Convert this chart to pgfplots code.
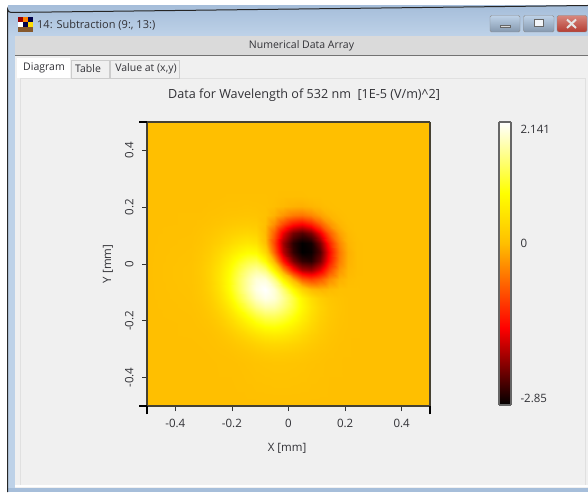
\documentclass[border=0pt]{standalone}
\usepackage{fontspec}
\setmainfont{Open Sans}
\usepackage{pgfplots}
\pgfplotsset{compat=1.18}
\definecolor{panel}{RGB}{240,240,240}
\definecolor{band}{RGB}{218,218,218}
\definecolor{tblue}{RGB}{166,190,218}
\definecolor{tblue2}{RGB}{190,210,232}
\definecolor{txt}{RGB}{50,50,55}
\definecolor{axl}{RGB}{70,65,50}
\definecolor{cltop}{RGB}{216,135,125}
\definecolor{clbot}{RGB}{180,60,50}
\pgfplotsset{hotcm/.style={colormap={hotmap}{rgb255(0)=(0,0,0); rgb255(272)=(255,0,0); rgb255(571)=(255,191,0); rgb255(750)=(255,255,0); rgb255(1000)=(255,255,255)}}}
\begin{document}
\begin{tikzpicture}
\path[use as bounding box] (0,0) rectangle (588pt,492pt);
\begin{scope}[x=1pt,y=-1pt,shift={(0pt,492pt)}]
\fill[white] (0,0) rectangle (588,492);
\shade[top color=tblue,bottom color=tblue2] (8,6) rectangle (588,36);
\fill[tblue2] (8,36) rectangle (15,492);
\fill[tblue] (588,488) rectangle (8,492);
\draw[black!85,line width=1pt] (7.5,492) -- (7.5,9) arc (180:90:3.5) -- (588,5.5);
\fill[band] (15,36) rectangle (588,55);
\fill[black!55] (15,55) rectangle (588,56.5);
\fill[panel] (15,56.5) rectangle (588,488);
\fill[white] (15,485) rectangle (588,486.5);
\draw[black!12] (20.5,78) -- (585.5,78) -- (585.5,485);
\draw[black!12] (20.5,78) -- (20.5,485);
% tabs
\fill[white] (17,58) rectangle (70,78);
\draw[black!20,fill=panel] (71,60) rectangle (109.5,78);
\draw[black!20,fill=panel] (110,60) rectangle (179.5,78);
\node[font=\fontsize{10.5pt}{12pt}\selectfont,text=txt] at (44,67.5) {Diagram};
\node[font=\fontsize{10.5pt}{12pt}\selectfont,text=txt] at (88,69) {Table};
\node[font=\fontsize{10.5pt}{12pt}\selectfont,text=txt] at (146,69) {Value at (x,y)};
\node[font=\fontsize{10.5pt}{12pt}\selectfont,text=txt] at (301.5,45.5) {Numerical Data Array};
\node[font=\fontsize{11pt}{12pt}\selectfont,text=txt,anchor=west,inner sep=0pt] at (37,25) {14: Subtraction (9:, 13:)};
% icon
\fill[red!60!black] (18,17) rectangle (23,22);
\fill[orange] (23,17) rectangle (28,22);
\fill[black!70!blue] (28,17) rectangle (33,22);
\fill[white] (18,22) rectangle (23,27);
\fill[black!70!blue] (23,22) rectangle (28,27);
\fill[yellow!80!orange] (28,22) rectangle (33,27);
\fill[brown!70!black] (18,27) rectangle (33,32);
% buttons
\shade[top color=tblue2,bottom color=tblue!80!black,draw=black!45,rounded corners=1.5pt] (490,15.5) rectangle (520,32);
\shade[top color=tblue2,bottom color=tblue!80!black,draw=black!45,rounded corners=1.5pt] (523.5,15.5) rectangle (554,32);
\shade[top color=cltop,bottom color=clbot,draw=black!45,rounded corners=1.5pt] (557,15.5) rectangle (587,32);
\fill[white!85!black,draw=black!60,line width=.4pt] (500,25) rectangle (510,27.5);
\draw[black!60,fill=white!85!tblue,line width=1pt] (534,20) rectangle (543,27);
\draw[white!90!black,line width=2pt] (567,19.5) -- (576,28) (576,19.5) -- (567,28);
\node[font=\fontsize{12.6pt}{14pt}\selectfont,text=txt] at (304,95) {Data for Wavelength of 532 nm\ \ [1E-5 (V/m)\textasciicircum 2]};
\end{scope}
\begin{axis}[
  at={(147pt,86pt)},anchor=south west,scale only axis,width=283pt,height=284pt,
  view={0}{90},xmin=-0.5,xmax=0.5,ymin=-0.5,ymax=0.5,
  axis on top,hotcm,
  point meta min=-2.85,point meta max=2.141,
  axis line style={axl,line width=1.2pt},
  xtick pos=bottom,ytick pos=left,
  tick align=outside,
  major tick length=5pt,
  tick style={black!80,line width=.7pt},
  xtick={-0.4,-0.2,0,0.2,0.4},xticklabels={-0.4,-0.2,0,0.2,0.4},
  ytick={-0.4,-0.2,0,0.2,0.4},yticklabels={-0.4,-0.2,0,0.2,0.4},
  extra x ticks={-0.5,0.5},extra x tick labels={,},
  extra y ticks={-0.5,0.5},extra y tick labels={,},
  extra tick style={tick style={black,line width=1.6pt},major tick length=8pt},
  tick label style={font=\fontsize{11.5pt}{13pt}\selectfont,text=txt},
  xticklabel style={yshift=-5pt},
  yticklabel style={xshift=-5pt,rotate=90,anchor=south},
  label style={font=\fontsize{11.5pt}{13pt}\selectfont,text=txt},
  xlabel={X [mm]},ylabel={Y [mm]},
  xlabel style={at={(axis description cs:0.495,0)},anchor=center,yshift=-42pt},
  ylabel style={at={(axis description cs:0,0.5)},anchor=center,yshift=39pt},
]
\addplot3[surf,shader=interp,mesh/ordering=x varies,mesh/cols=22] coordinates {
(-.5,-.5,0)(-.343,-.5,0)(-.3105,-.5,0)(-.278,-.5,0)(-.2455,-.5,0)(-.213,-.5,0)(-.1805,-.5,0)(-.148,-.5,0)(-.1155,-.5,0)(-.083,-.5,0)(-.0505,-.5,0)(-.018,-.5,0)(.0145,-.5,0)(.047,-.5,0)(.0795,-.5,0)(.112,-.5,0)(.1445,-.5,0)(.177,-.5,0)(.2095,-.5,0)(.242,-.5,0)(.2745,-.5,0)(.5,-.5,0)
(-.5,-.347,0)(-.343,-.347,0)(-.3105,-.347,0)(-.278,-.347,0)(-.2455,-.347,.01)(-.213,-.347,.01)(-.1805,-.347,.02)(-.148,-.347,.04)(-.1155,-.347,.06)(-.083,-.347,.07)(-.0505,-.347,.08)(-.018,-.347,.08)(.0145,-.347,.07)(.047,-.347,.06)(.0795,-.347,.04)(.112,-.347,.03)(.1445,-.347,.01)(.177,-.347,.01)(.2095,-.347,0)(.242,-.347,0)(.2745,-.347,0)(.5,-.347,0)
(-.5,-.3145,0)(-.343,-.3145,0)(-.3105,-.3145,0)(-.278,-.3145,.01)(-.2455,-.3145,.02)(-.213,-.3145,.03)(-.1805,-.3145,.06)(-.148,-.3145,.09)(-.1155,-.3145,.13)(-.083,-.3145,.16)(-.0505,-.3145,.18)(-.018,-.3145,.17)(.0145,-.3145,.15)(.047,-.3145,.12)(.0795,-.3145,.08)(.112,-.3145,.05)(.1445,-.3145,.03)(.177,-.3145,.01)(.2095,-.3145,.01)(.242,-.3145,0)(.2745,-.3145,0)(.5,-.3145,0)
(-.5,-.282,0)(-.343,-.282,0)(-.3105,-.282,.01)(-.278,-.282,.02)(-.2455,-.282,.04)(-.213,-.282,.07)(-.1805,-.282,.12)(-.148,-.282,.19)(-.1155,-.282,.26)(-.083,-.282,.32)(-.0505,-.282,.34)(-.018,-.282,.33)(.0145,-.282,.28)(.047,-.282,.22)(.0795,-.282,.15)(.112,-.282,.09)(.1445,-.282,.05)(.177,-.282,.02)(.2095,-.282,.01)(.242,-.282,0)(.2745,-.282,0)(.5,-.282,0)
(-.5,-.2495,0)(-.343,-.2495,.01)(-.3105,-.2495,.01)(-.278,-.2495,.03)(-.2455,-.2495,.07)(-.213,-.2495,.14)(-.1805,-.2495,.24)(-.148,-.2495,.36)(-.1155,-.2495,.48)(-.083,-.2495,.57)(-.0505,-.2495,.6)(-.018,-.2495,.57)(.0145,-.2495,.47)(.047,-.2495,.35)(.0795,-.2495,.23)(.112,-.2495,.14)(.1445,-.2495,.07)(.177,-.2495,.03)(.2095,-.2495,.01)(.242,-.2495,.01)(.2745,-.2495,0)(.5,-.2495,0)
(-.5,-.217,0)(-.343,-.217,.01)(-.3105,-.217,.03)(-.278,-.217,.06)(-.2455,-.217,.13)(-.213,-.217,.25)(-.1805,-.217,.41)(-.148,-.217,.61)(-.1155,-.217,.79)(-.083,-.217,.92)(-.0505,-.217,.95)(-.018,-.217,.87)(.0145,-.217,.71)(.047,-.217,.52)(.0795,-.217,.34)(.112,-.217,.19)(.1445,-.217,.1)(.177,-.217,.04)(.2095,-.217,.02)(.242,-.217,.01)(.2745,-.217,0)(.5,-.217,0)
(-.5,-.1845,0)(-.343,-.1845,.02)(-.3105,-.1845,.05)(-.278,-.1845,.11)(-.2455,-.1845,.22)(-.213,-.1845,.4)(-.1805,-.1845,.64)(-.148,-.1845,.92)(-.1155,-.1845,1.17)(-.083,-.1845,1.33)(-.0505,-.1845,1.34)(-.018,-.1845,1.21)(.0145,-.1845,.97)(.047,-.1845,.69)(.0795,-.1845,.43)(.112,-.1845,.24)(.1445,-.1845,.12)(.177,-.1845,.05)(.2095,-.1845,.02)(.242,-.1845,.01)(.2745,-.1845,0)(.5,-.1845,0)
(-.5,-.152,0)(-.343,-.152,.03)(-.3105,-.152,.07)(-.278,-.152,.16)(-.2455,-.152,.32)(-.213,-.152,.56)(-.1805,-.152,.89)(-.148,-.152,1.25)(-.1155,-.152,1.56)(-.083,-.152,1.73)(-.0505,-.152,1.71)(-.018,-.152,1.5)(.0145,-.152,1.17)(.047,-.152,.8)(.0795,-.152,.49)(.112,-.152,.27)(.1445,-.152,.13)(.177,-.152,.06)(.2095,-.152,.02)(.242,-.152,.01)(.2745,-.152,0)(.5,-.152,0)
(-.5,-.1195,0)(-.343,-.1195,.04)(-.3105,-.1195,.1)(-.278,-.1195,.21)(-.2455,-.1195,.42)(-.213,-.1195,.72)(-.1805,-.1195,1.12)(-.148,-.1195,1.53)(-.1155,-.1195,1.87)(-.083,-.1195,2.03)(-.0505,-.1195,1.95)(-.018,-.1195,1.64)(.0145,-.1195,1.2)(.047,-.1195,.75)(.0795,-.1195,.42)(.112,-.1195,.21)(.1445,-.1195,.1)(.177,-.1195,.05)(.2095,-.1195,.02)(.242,-.1195,.01)(.2745,-.1195,0)(.5,-.1195,0)
(-.5,-.087,0)(-.343,-.087,.05)(-.3105,-.087,.12)(-.278,-.087,.26)(-.2455,-.087,.49)(-.213,-.087,.84)(-.1805,-.087,1.26)(-.148,-.087,1.69)(-.1155,-.087,2.02)(-.083,-.087,2.141)(-.0505,-.087,1.94)(-.018,-.087,1.45)(.0145,-.087,.81)(.047,-.087,.26)(.0795,-.087,-.05)(.112,-.087,-.1)(.1445,-.087,-.04)(.177,-.087,.01)(.2095,-.087,.01)(.242,-.087,.01)(.2745,-.087,0)(.5,-.087,0)
(-.5,-.0545,0)(-.343,-.0545,.06)(-.3105,-.0545,.13)(-.278,-.0545,.28)(-.2455,-.0545,.53)(-.213,-.0545,.87)(-.1805,-.0545,1.28)(-.148,-.0545,1.68)(-.1155,-.0545,1.95)(-.083,-.0545,1.95)(-.0505,-.0545,1.53)(-.018,-.0545,.73)(.0145,-.0545,-.15)(.047,-.0545,-.79)(.0795,-.0545,-.99)(.112,-.0545,-.8)(.1445,-.0545,-.41)(.177,-.0545,-.12)(.2095,-.0545,-.02)(.242,-.0545,0)(.2745,-.0545,0)(.5,-.0545,0)
(-.5,-.022,0)(-.343,-.022,.06)(-.3105,-.022,.14)(-.278,-.022,.28)(-.2455,-.022,.5)(-.213,-.022,.81)(-.1805,-.022,1.17)(-.148,-.022,1.5)(-.1155,-.022,1.67)(-.083,-.022,1.49)(-.0505,-.022,.76)(-.018,-.022,-.34)(.0145,-.022,-1.34)(.047,-.022,-1.92)(.0795,-.022,-2.02)(.112,-.022,-1.64)(.1445,-.022,-.94)(.177,-.022,-.33)(.2095,-.022,-.06)(.242,-.022,-.01)(.2745,-.022,0)(.5,-.022,0)
(-.5,.0105,0)(-.343,.0105,.05)(-.3105,.0105,.12)(-.278,.0105,.24)(-.2455,.0105,.43)(-.213,.0105,.69)(-.1805,.0105,.97)(-.148,.0105,1.2)(-.1155,.0105,1.26)(-.083,.0105,.88)(-.0505,.0105,-.1)(-.018,.0105,-1.31)(.0145,.0105,-2.18)(.047,.0105,-2.58)(.0795,.0105,-2.64)(.112,.0105,-2.23)(.1445,.0105,-1.36)(.177,.0105,-.52)(.2095,.0105,-.1)(.242,.0105,-.01)(.2745,.0105,0)(.5,.0105,0)
(-.5,.043,0)(-.343,.043,.04)(-.3105,.043,.1)(-.278,.043,.19)(-.2455,.043,.34)(-.213,.043,.52)(-.1805,.043,.71)(-.148,.043,.86)(-.1155,.043,.83)(-.083,.043,.34)(-.0505,.043,-.72)(-.018,.043,-1.87)(.0145,.043,-2.57)(.047,.043,-2.85)(.0795,.043,-2.8)(.112,.043,-2.42)(.1445,.043,-1.48)(.177,.043,-.57)(.2095,.043,-.12)(.242,.043,-.01)(.2745,.043,0)(.5,.043,0)
(-.5,.0755,0)(-.343,.0755,.03)(-.3105,.0755,.07)(-.278,.0755,.14)(-.2455,.0755,.23)(-.213,.0755,.35)(-.1805,.0755,.47)(-.148,.0755,.56)(-.1155,.0755,.49)(-.083,.0755,.03)(-.0505,.0755,-.93)(-.018,.0755,-1.98)(.0145,.0755,-2.62)(.047,.0755,-2.84)(.0795,.0755,-2.75)(.112,.0755,-2.2)(.1445,.0755,-1.26)(.177,.0755,-.45)(.2095,.0755,-.08)(.242,.0755,-.01)(.2745,.0755,0)(.5,.0755,0)
(-.5,.108,0)(-.343,.108,.02)(-.3105,.108,.05)(-.278,.108,.09)(-.2455,.108,.15)(-.213,.108,.22)(-.1805,.108,.28)(-.148,.108,.32)(-.1155,.108,.27)(-.083,.108,-.04)(-.0505,.108,-.75)(-.018,.108,-1.61)(.0145,.108,-2.22)(.047,.108,-2.41)(.0795,.108,-2.19)(.112,.108,-1.57)(.1445,.108,-.79)(.177,.108,-.24)(.2095,.108,-.04)(.242,.108,0)(.2745,.108,0)(.5,.108,0)
(-.5,.1405,0)(-.343,.1405,.01)(-.3105,.1405,.03)(-.278,.1405,.05)(-.2455,.1405,.08)(-.213,.1405,.12)(-.1805,.1405,.15)(-.148,.1405,.17)(-.1155,.1405,.15)(-.083,.1405,0)(-.0505,.1405,-.38)(-.018,.1405,-.92)(.0145,.1405,-1.35)(.047,.1405,-1.48)(.0795,.1405,-1.25)(.112,.1405,-.79)(.1445,.1405,-.34)(.177,.1405,-.08)(.2095,.1405,-.01)(.242,.1405,0)(.2745,.1405,0)(.5,.1405,0)
(-.5,.173,0)(-.343,.173,.01)(-.3105,.173,.01)(-.278,.173,.03)(-.2455,.173,.04)(-.213,.173,.06)(-.1805,.173,.07)(-.148,.173,.08)(-.1155,.173,.07)(-.083,.173,.03)(-.0505,.173,-.1)(-.018,.173,-.32)(.0145,.173,-.52)(.047,.173,-.57)(.0795,.173,-.44)(.112,.173,-.24)(.1445,.173,-.08)(.177,.173,-.02)(.2095,.173,0)(.242,.173,0)(.2745,.173,0)(.5,.173,0)
(-.5,.2055,0)(-.343,.2055,0)(-.3105,.2055,0)(-.278,.2055,.01)(-.2455,.2055,.02)(-.213,.2055,.03)(-.1805,.2055,.03)(-.148,.2055,.04)(-.1155,.2055,.03)(-.083,.2055,.02)(-.0505,.2055,-.01)(-.018,.2055,-.05)(.0145,.2055,-.1)(.047,.2055,-.12)(.0795,.2055,-.08)(.112,.2055,-.04)(.1445,.2055,-.01)(.177,.2055,0)(.2095,.2055,0)(.242,.2055,0)(.2745,.2055,0)(.5,.2055,0)
(-.5,.238,0)(-.343,.238,0)(-.3105,.238,0)(-.278,.238,0)(-.2455,.238,0)(-.213,.238,.01)(-.1805,.238,.01)(-.148,.238,.01)(-.1155,.238,.01)(-.083,.238,.01)(-.0505,.238,0)(-.018,.238,-.01)(.0145,.238,-.01)(.047,.238,-.01)(.0795,.238,0)(.112,.238,0)(.1445,.238,0)(.177,.238,0)(.2095,.238,0)(.242,.238,0)(.2745,.238,0)(.5,.238,0)
(-.5,.2705,0)(-.343,.2705,0)(-.3105,.2705,0)(-.278,.2705,0)(-.2455,.2705,0)(-.213,.2705,0)(-.1805,.2705,0)(-.148,.2705,0)(-.1155,.2705,0)(-.083,.2705,0)(-.0505,.2705,0)(-.018,.2705,0)(.0145,.2705,0)(.047,.2705,0)(.0795,.2705,0)(.112,.2705,0)(.1445,.2705,0)(.177,.2705,0)(.2095,.2705,0)(.242,.2705,0)(.2745,.2705,0)(.5,.2705,0)
(-.5,.5,0)(-.343,.5,0)(-.3105,.5,0)(-.278,.5,0)(-.2455,.5,0)(-.213,.5,0)(-.1805,.5,0)(-.148,.5,0)(-.1155,.5,0)(-.083,.5,0)(-.0505,.5,0)(-.018,.5,0)(.0145,.5,0)(.047,.5,0)(.0795,.5,0)(.112,.5,0)(.1445,.5,0)(.177,.5,0)(.2095,.5,0)(.242,.5,0)(.2745,.5,0)(.5,.5,0)
};
\end{axis}
% colour bar: its own axis, filled from the same colormap
\begin{axis}[
  at={(499pt,87pt)},anchor=south west,scale only axis,width=12pt,height=283pt,
  xmin=0,xmax=1,ymin=-2.85,ymax=2.141,
  hotcm,
  point meta min=-2.85,point meta max=2.141,
  view={0}{90},axis on top,
  axis line style={black!60,line width=1.2pt},
  xtick=\empty,
  ytick pos=right,
  ytick={-2.727,0,2.018},yticklabels={-2.85,0,2.141},
  major tick length=0pt,
  tick label style={font=\fontsize{11.5pt}{13pt}\selectfont,text=txt},
  yticklabel style={xshift=6pt,anchor=west},
]
\addplot3[surf,shader=interp,mesh/rows=2] coordinates {
(0,-2.85,-2.85)(0,-1.492,-1.492)(0,0,0)(0,.893,.893)(0,2.141,2.141)
(1,-2.85,-2.85)(1,-1.492,-1.492)(1,0,0)(1,.893,.893)(1,2.141,2.141)
};
\end{axis}
\end{tikzpicture}
\end{document}
